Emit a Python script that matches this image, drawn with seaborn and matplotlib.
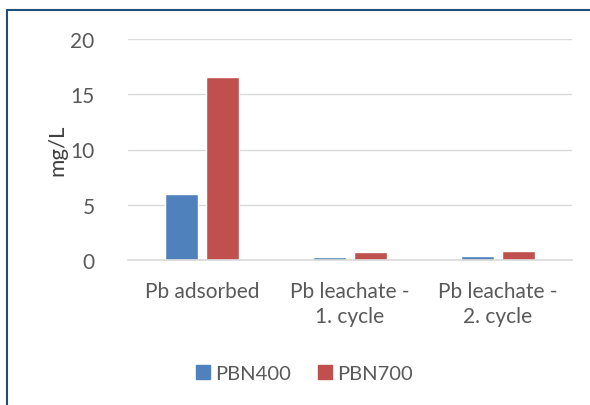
import matplotlib
matplotlib.use("Agg")
import matplotlib.pyplot as plt
import seaborn as sns
import pandas as pd
from matplotlib.lines import Line2D

categories = ["Pb adsorbed", "Pb leachate -\n1. cycle", "Pb leachate -\n2. cycle"]
series_names = ["PBN400", "PBN700"]
pbn400 = [6.0, 0.3, 0.38]
pbn700 = [16.6, 0.7, 0.78]
yticks = [0, 5, 10, 15, 20]
colors = ["#4F81BD", "#C0504D"]

df = pd.DataFrame({
    "category": categories * 2,
    "series": [series_names[0]] * 3 + [series_names[1]] * 3,
    "value": pbn400 + pbn700,
})

sns.set_theme(style="white")
plt.rcParams["font.family"] = ["Lato", "DejaVu Sans"]

W, H = 590, 406
fig = plt.figure(figsize=(W / 100, H / 100), dpi=100)
ax = fig.add_axes([128 / W, 1 - 261 / H, (572 - 128) / W, (261 - 40) / H])

sns.barplot(data=df, x="category", y="value", hue="series", order=categories,
            hue_order=series_names, palette=colors, width=0.565, gap=0.21,
            saturation=1, ax=ax, legend=False, errorbar=None)

ax.set_ylim(0, 20)
ax.set_xlim(-0.5, 2.5)
ax.set_yticks(yticks)
ax.set_yticklabels([str(t) for t in yticks])
ax.yaxis.grid(True, color="#D9D9D9", linewidth=1)
ax.set_axisbelow(True)
for s in ["top", "right", "left"]:
    ax.spines[s].set_visible(False)
ax.spines["bottom"].set_color("#D9D9D9")
ax.spines["bottom"].set_linewidth(1.2)
ax.tick_params(axis="both", length=0, labelsize=15, colors="#595959")
ax.tick_params(axis="y", pad=24)
ax.tick_params(axis="x", pad=15)
for lab in ax.get_xticklabels():
    lab.set_linespacing(1.35)
ax.set_xlabel("")
ax.set_ylabel("mg/L", fontsize=16, color="#404040", labelpad=2)

handles = [Line2D([0], [0], marker="s", linestyle="none", markersize=10,
                  markerfacecolor=c, markeredgecolor=c) for c in colors]
fig.legend(handles, series_names, loc="center", bbox_to_anchor=(303 / W, 1 - 374 / H),
           ncol=2, frameon=False, fontsize=14.5, labelcolor="#595959",
           handletextpad=0.1, columnspacing=1.2, handlelength=1.0)

# outer chart border (top and left visible)
border_color = "#1F4E79"
fig.add_artist(Line2D([7 / W, 1.0], [1 - 11 / H, 1 - 11 / H], color=border_color,
                      linewidth=1.5, transform=fig.transFigure))
fig.add_artist(Line2D([7 / W, 7 / W], [1 - 11 / H, 0.0], color=border_color,
                      linewidth=1.5, transform=fig.transFigure))

fig.savefig("out.png", dpi=100)
